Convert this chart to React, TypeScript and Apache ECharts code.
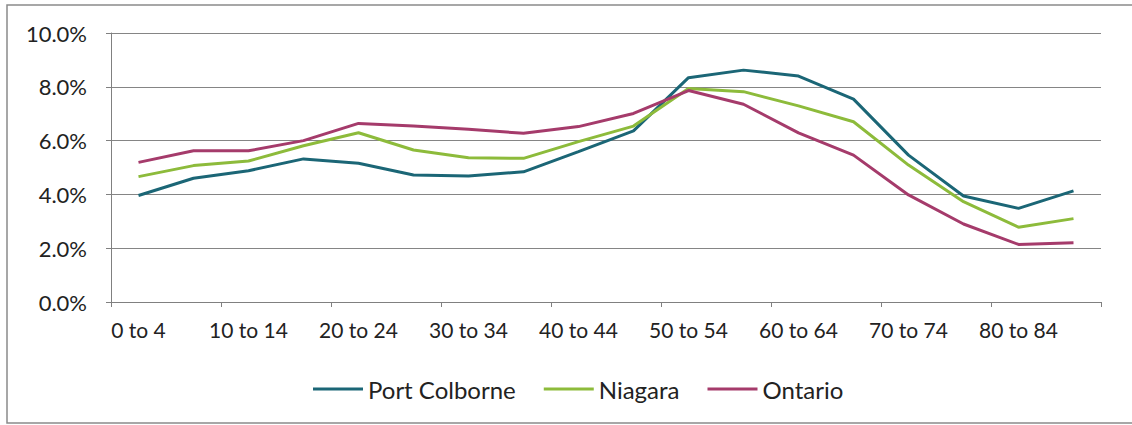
import React, { useEffect, useRef } from "react";
import * as echarts from "echarts";

// Age groups (five-year bands) and share of population in each, in percent
const ageGroups = [
  "0 to 4", "5 to 9", "10 to 14", "15 to 19", "20 to 24", "25 to 29",
  "30 to 34", "35 to 39", "40 to 44", "45 to 49", "50 to 54", "55 to 59",
  "60 to 64", "65 to 69", "70 to 74", "75 to 79", "80 to 84", "85+",
];

const portColborne = [
  3.96, 4.6, 4.88, 5.32, 5.16, 4.72, 4.68, 4.84, 5.59, 6.36, 8.34, 8.62,
  8.4, 7.54, 5.46, 3.94, 3.48, 4.13,
];
const niagara = [
  4.66, 5.07, 5.24, 5.81, 6.29, 5.65, 5.36, 5.34, 5.96, 6.54, 7.94, 7.82,
  7.29, 6.7, 5.09, 3.73, 2.78, 3.1,
];
const ontario = [
  5.19, 5.62, 5.62, 6.0, 6.64, 6.54, 6.42, 6.27, 6.52, 7.01, 7.86, 7.35,
  6.29, 5.46, 3.98, 2.9, 2.14, 2.2,
];

const seriesNames = ["Port Colborne", "Niagara", "Ontario"];
const seriesColors = ["#1b6676", "#8dbb3b", "#a53b6b"];

const FONT = "Lato, 'Open Sans', sans-serif";

export default function App() {
  const ref = useRef<HTMLDivElement>(null);

  useEffect(() => {
    if (!ref.current) return;
    const chart = echarts.init(ref.current, undefined, { renderer: "svg" });
    const values = [portColborne, niagara, ontario];
    chart.setOption({
      animation: false,
      backgroundColor: "#ffffff",
      textStyle: { fontFamily: FONT },
      graphic: [
        {
          type: "rect",
          shape: { x: 7, y: 5, width: 1140, height: 418 },
          style: { fill: "none", stroke: "#8a8a8a", lineWidth: 1.5 },
          silent: true,
        },
      ],
      grid: { left: 111, right: 31, top: 33, bottom: 123 },
      legend: {
        top: 372,
        left: 308,
        itemWidth: 50,
        itemHeight: 3,
        itemGap: 28,
        icon: "rect",
        textStyle: { fontSize: 24, color: "#222", fontFamily: FONT },
        data: seriesNames,
      },
      xAxis: {
        type: "category",
        data: ageGroups,
        boundaryGap: true,
        axisLine: { lineStyle: { color: "#808080", width: 1 } },
        axisTick: { show: true, length: 5, inside: false, lineStyle: { color: "#808080" } },
        axisLabel: {
          interval: 1,
          margin: 17,
          fontSize: 21,
          color: "#222",
          fontFamily: FONT,
        },
        splitLine: { show: false },
      },
      yAxis: {
        type: "value",
        min: 0,
        max: 10,
        interval: 2,
        axisLine: { show: true, lineStyle: { color: "#808080", width: 1 } },
        axisTick: { show: true, length: 5, lineStyle: { color: "#808080" } },
        axisLabel: {
          formatter: (v: number) => v.toFixed(1) + "%",
          fontSize: 22,
          color: "#222",
          margin: 24,
          fontFamily: FONT,
        },
        splitLine: { lineStyle: { color: "#858585", width: 1 } },
      },
      series: seriesNames.map((name, i) => ({
        name,
        type: "line",
        data: values[i],
        symbol: "none",
        smooth: false,
        lineStyle: { color: seriesColors[i], width: 3 },
        itemStyle: { color: seriesColors[i] },
      })),
    });
    return () => chart.dispose();
  }, []);

  return <div ref={ref} style={{ width: 1132, height: 425, position: "absolute", left: 0, top: 0 }} />;
}
